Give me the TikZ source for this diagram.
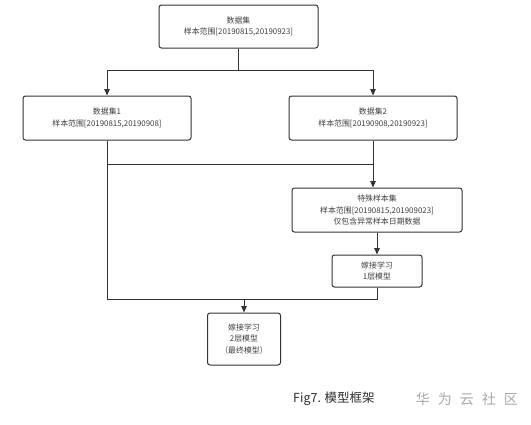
\documentclass[tikz,border=0pt]{standalone}
\usepackage{fontspec}
\setmainfont{Noto Sans CJK SC}
\usetikzlibrary{arrows.meta}
\definecolor{ln}{HTML}{333333}
\definecolor{tx}{HTML}{404040}
\definecolor{wm}{HTML}{A8A8A8}
\tikzset{
  box/.style={draw=ln, line width=1pt, rounded corners=2.5pt, fill=white, align=center,
    font=\fontsize{7.9}{11.5}\selectfont, text=tx, inner sep=0pt},
  conn/.style={draw=ln, line width=1pt},
  arr/.style={conn, -{Triangle[length=6.5pt,width=5.5pt]}},
}
\begin{document}
\begin{tikzpicture}[x=1pt,y=-1pt]
\useasboundingbox (0,0) rectangle (531,424);
\node[box, minimum width=159pt, minimum height=43pt] (top) at (238.5,26.5) {数据集\\样本范围[20190815,20190923]};
\node[box, minimum width=168pt, minimum height=44pt] (d1) at (107,118) {数据集1\\样本范围[20190815,20190908]};
\node[box, minimum width=168pt, minimum height=44pt] (d2) at (373,118) {数据集2\\样本范围[20190908,20190923]};
\node[box, minimum width=170pt, minimum height=44pt] (sp) at (377,210) {特殊样本集\\样本范围[20190815,201909023]\\仅包含异常样本日期数据};
\node[box, minimum width=90pt, minimum height=32pt] (g1) at (377,271) {嫁接学习\\1层模型};
\node[box, minimum width=73pt, minimum height=52pt] (g2) at (244,339) {嫁接学习\\2层模型\\（最终模型）};
\coordinate (s) at (238.5,70);
\coordinate (m) at (373,164);
\coordinate (b) at (244,299);
\draw[conn] (top.south) -- (s);
\draw[arr] (s) -| (d1.north);
\draw[arr] (s) -| (d2.north);
\draw[conn] (d1.south) -- (107,299) -- (b);
\draw[conn] (d1.south |- m) -- (m);
\draw[arr] (d2.south) -- (d2.south |- sp.north);
\draw[arr] (sp.south) -- (g1.north);
\draw[conn] (g1.south) |- (b);
\draw[arr] (b) -- (g2.north);
\node[font=\fontsize{12.5}{14}\selectfont, text=black!82, anchor=west, inner sep=0pt] (cap) at (293,399) {Fig7. 模型框架};
\node[font=\fontsize{14}{15}\selectfont, text=wm, anchor=east, inner sep=0pt] (wmk) at (518,399) {华\hspace{8pt}为\hspace{8pt}云\hspace{8pt}社\hspace{8pt}区};
\end{tikzpicture}
\end{document}
